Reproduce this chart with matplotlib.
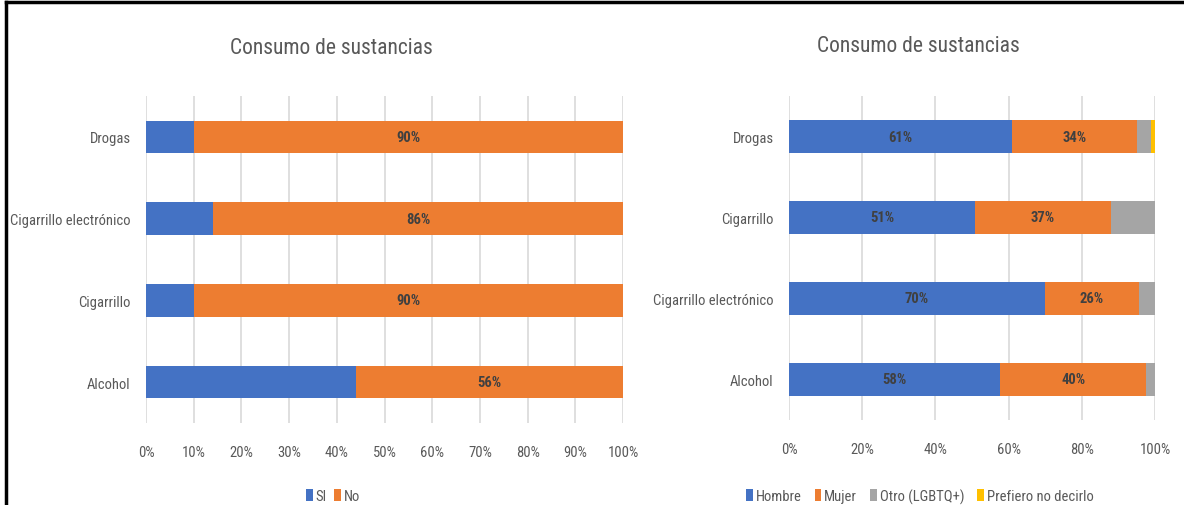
import numpy as np
import matplotlib.pyplot as plt
from matplotlib import font_manager

# buscar una fuente estrecha parecida a Calibri
candidatas = ['Liberation Sans Narrow', 'Roboto Condensed', 'Open Sans Condensed',
              'DejaVu Sans Condensed', 'Noto Sans Condensed']
nombres = {f.name for f in font_manager.fontManager.ttflist}
fuente = next((c for c in candidatas if c in nombres), None)
estrecho = {}
if fuente is None:
    cond = [f for f in font_manager.fontManager.ttflist
            if f.stretch in ('condensed', 'semi-condensed') and f.weight in (400, 'normal')]
    if cond:
        fuente = cond[0].name
        estrecho = {'stretch': 'condensed'}
    else:
        fuente = 'DejaVu Sans'
plt.rcParams['font.family'] = [fuente, 'DejaVu Sans']
if estrecho:
    plt.rcParams['font.stretch'] = 'condensed'

# grafico izquierdo (Si / No)
cat_izq = ['Alcohol', 'Cigarrillo', 'Cigarrillo electrónico', 'Drogas']
si = [44, 10, 14, 10]
no = [56, 90, 86, 90]

# grafico derecho (por genero)
cat_der = ['Alcohol', 'Cigarrillo electrónico', 'Cigarrillo', 'Drogas']
hombre = [57.7, 69.9, 50.8, 60.8]
mujer = [39.9, 25.7, 37.2, 34.4]
otro = [2.4, 4.4, 12.0, 3.8]
prefiero = [0.0, 0.0, 0.0, 1.0]

azul = '#4472C4'
naranja = '#ED7D31'
gris = '#A5A5A5'
amarillo = '#FFC000'
texto = '#595959'

W, H = 1184, 506
fs = 10.5
fig = plt.figure(figsize=(W/100, H/100), dpi=100)
ax1 = fig.add_axes([146/W, 1-424/H, 477/W, 327/H])
ax2 = fig.add_axes([789/W, 1-421/H, 366/W, 324/H])

def estilo(ax, ticks):
    ax.set_xlim(0, 100)
    ax.set_ylim(-0.5, 3.5)
    ax.set_xticks(ticks)
    ax.set_xticklabels([f'{t}%' for t in ticks])
    ax.xaxis.grid(True, color='#D9D9D9', lw=1.2)
    ax.set_axisbelow(True)
    for s in ax.spines.values():
        s.set_visible(False)
    ax.tick_params(length=0, colors=texto, labelsize=fs)
    ax.tick_params(axis='x', pad=16)
    ax.tick_params(axis='y', pad=11)

y = np.arange(4)
b1 = ax1.barh(y, si, height=0.4, color=azul, label='SI')
b2 = ax1.barh(y, no, left=si, height=0.4, color=naranja, label='No')
ax1.set_yticks(y)
ax1.set_yticklabels(cat_izq)
estilo(ax1, range(0, 101, 10))
ax1.bar_label(b2, labels=[f'{v}%' for v in no], label_type='center',
              color='#404040', fontsize=fs, fontweight='bold')
fig.text(331/W, 1-48/H, 'Consumo de sustancias', fontsize=15.5, color=texto,
         ha='center', va='center')
fig.legend(handles=[b1, b2], loc='center', bbox_to_anchor=(333/W, 1-497/H), ncol=2,
           frameon=False, fontsize=fs, labelcolor=texto, handlelength=0.45,
           handleheight=0.9, handletextpad=0.2, columnspacing=0.5)

izq = np.zeros(4)
barras = []
for vals, col, nom in [(hombre, azul, 'Hombre'), (mujer, naranja, 'Mujer'),
                       (otro, gris, 'Otro (LGBTQ+)'), (prefiero, amarillo, 'Prefiero no decirlo')]:
    b = ax2.barh(y, vals, left=izq, height=0.4, color=col, label=nom)
    barras.append((b, vals))
    izq = izq + np.array(vals)
for b, vals in barras[:2]:
    ax2.bar_label(b, labels=[f'{round(v)}%' for v in vals], label_type='center',
                  color='#404040', fontsize=fs, fontweight='bold')
ax2.set_yticks(y)
ax2.set_yticklabels(cat_der)
estilo(ax2, range(0, 101, 20))
fig.text(918/W, 1-46/H, 'Consumo de sustancias', fontsize=15.5, color=texto,
         ha='center', va='center')
fig.legend(handles=[b for b, _ in barras], loc='center', bbox_to_anchor=(920/W, 1-497/H),
           ncol=4, frameon=False, fontsize=fs, labelcolor=texto, handlelength=0.45,
           handleheight=0.9, handletextpad=0.2, columnspacing=0.9)

# marco
fig.add_artist(plt.Line2D([6/W, 6/W], [0, 1-3/H], color='black', lw=2.5))
fig.add_artist(plt.Line2D([6/W, 1], [1-3/H, 1-3/H], color='black', lw=2.5))

fig.savefig('out.png', dpi=100)
